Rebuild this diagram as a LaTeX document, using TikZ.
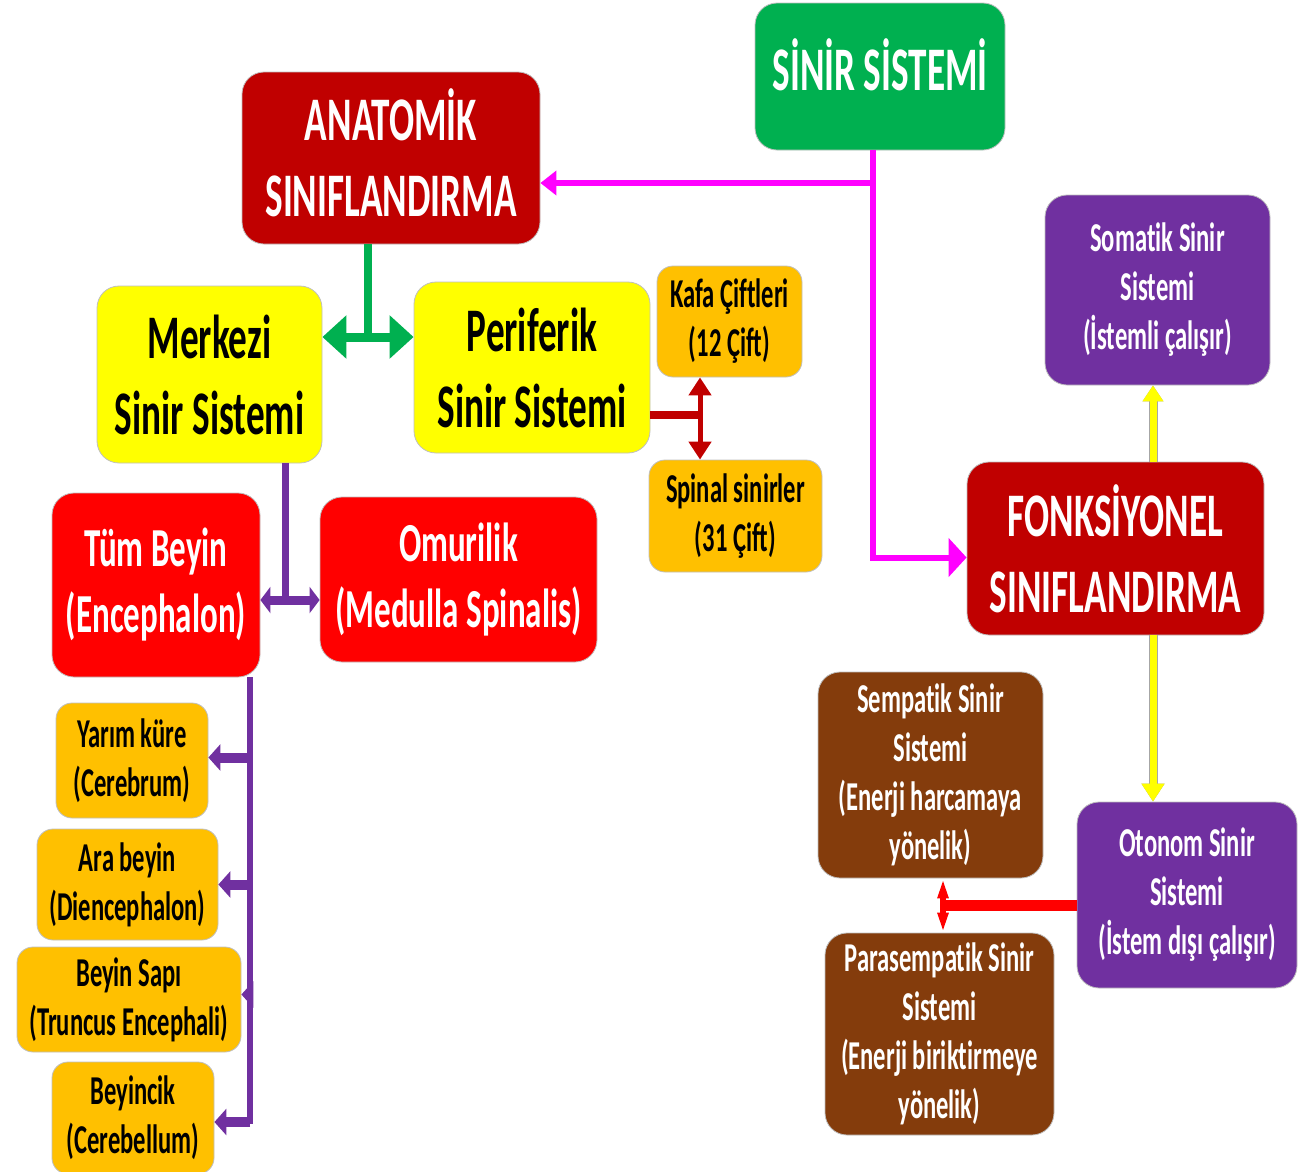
\documentclass[tikz,border=0pt]{standalone}
\usepackage{fontspec}
\setmainfont{Carlito}[FakeStretch=0.6, Ligatures=CommonOff]
\usetikzlibrary{arrows.meta}

\definecolor{sgreen}{HTML}{00B050}
\definecolor{sdarkred}{HTML}{C00000}
\definecolor{syellow}{HTML}{FFFF00}
\definecolor{sorange}{HTML}{FFC000}
\definecolor{sred}{HTML}{FF0000}
\definecolor{spurple}{HTML}{7030A0}
\definecolor{sbrown}{HTML}{843C0C}
\definecolor{smagenta}{HTML}{FF00FF}

\tikzset{
  box/.style={rounded corners=22pt, draw=black!25, line width=0.8pt, inner sep=0pt, align=center},
  smallbox/.style={box, rounded corners=16pt},
  bigtext/.style={font=\bfseries\fontsize{62}{76}\selectfont},
  midtext/.style={font=\bfseries\fontsize{55}{66}\selectfont},
  smalltext/.style={font=\bfseries\fontsize{41}{49}\selectfont},
  magline/.style={smagenta, line width=6pt},
  greenline/.style={sgreen, line width=9pt},
  dredline/.style={sdarkred, line width=8pt},
  purpline/.style={spurple, line width=7pt},
  yellline/.style={syellow, line width=7pt,
    preaction={draw=black!35, line width=9pt}},
  redline/.style={sred, line width=11pt}
}

\begin{document}
\begin{tikzpicture}[x=1pt, y=-1pt]
    \useasboundingbox (0,0) rectangle (1307,1171);

    % boxes
    \node[box, fill=sgreen, text=white, bigtext, text depth=24pt, minimum width=250pt, minimum height=147pt] (sinir) at (880,76.5) {SİNİR SİSTEMİ};
    \node[box, fill=sdarkred, text=white, bigtext, text depth=10pt, minimum width=298pt, minimum height=172pt] (anat) at (391,158) {ANATOMİK\\SINIFLANDIRMA};
    \node[box, fill=sdarkred, text=white, bigtext, minimum width=297pt, minimum height=173pt] (fonk) at (1115.5,548.5) {FONKSİYONEL\\SINIFLANDIRMA};

    \node[box, fill=syellow, bigtext, minimum width=225pt, minimum height=177pt] (merkezi) at (209.5,374.5) {Merkezi\\Sinir Sistemi};
    \node[box, fill=syellow, bigtext, minimum width=236pt, minimum height=171pt] (periferik) at (532,367.5) {Periferik\\Sinir Sistemi};
    \node[smallbox, fill=sorange, smalltext, minimum width=145pt, minimum height=111pt] (kafa) at (729.5,321.5) {Kafa Çiftleri\\(12 Çift)};
    \node[smallbox, fill=sorange, smalltext, minimum width=173pt, minimum height=112pt] (spinal) at (735.5,516) {Spinal sinirler\\(31 Çift)};

    \node[box, fill=sred, text=white, midtext, minimum width=208pt, minimum height=184pt] (beyin) at (156,585) {Tüm Beyin\\(Encephalon)};
    \node[box, fill=sred, text=white, midtext, minimum width=277pt, minimum height=165pt] (omurilik) at (458.5,579.5) {Omurilik\\(Medulla Spinalis)};

    \node[smallbox, fill=sorange, smalltext, minimum width=152pt, minimum height=115pt] (yarim) at (132,760.5) {Yarım küre\\(Cerebrum)};
    \node[smallbox, fill=sorange, smalltext, minimum width=181pt, minimum height=111pt] (ara) at (127.5,884.5) {Ara beyin\\(Diencephalon)};
    \node[smallbox, fill=sorange, smalltext, minimum width=224pt, minimum height=105pt] (sapi) at (129,999.5) {Beyin Sapı\\(Truncus Encephali)};
    \node[smallbox, fill=sorange, smalltext, minimum width=162pt, minimum height=112pt] (beyincik) at (133,1118) {Beyincik\\(Cerebellum)};

    \node[box, fill=spurple, text=white, smalltext, minimum width=225pt, minimum height=190pt] (somatik) at (1157.5,290) {Somatik Sinir\\Sistemi\\(İstemli çalışır)};
    \node[box, fill=spurple, text=white, smalltext, minimum width=220pt, minimum height=186pt] (otonom) at (1187,895) {Otonom Sinir\\Sistemi\\(İstem dışı çalışır)};
    \node[box, fill=sbrown, text=white, smalltext, minimum width=225pt, minimum height=206pt] (sempatik) at (930.5,775) {Sempatik Sinir\\Sistemi\\(Enerji harcamaya\\yönelik)};
    \node[box, fill=sbrown, text=white, smalltext, minimum width=229pt, minimum height=202pt] (parasemp) at (939.5,1034) {Parasempatik Sinir\\Sistemi\\(Enerji biriktirmeye\\yönelik)};

    % junctions
    \coordinate (mj) at (873,183);
    \coordinate (gj) at (368,337);
    \coordinate (dj) at (700,415);
    \coordinate (pj) at (285,600);
    \coordinate (spine) at (250,0);
    \coordinate (yx) at (1153,0);
    \coordinate (rj) at (943,905);

    % magenta
    \draw[magline, -{Triangle[width=38pt, length=18pt]}] ([xshift=-7pt]sinir.south) |- ([yshift=-9pt]fonk.west);
    \draw[magline, -{Triangle[width=24pt, length=16pt]}] (mj) -- (anat.east |- mj);

    % green
    \draw[sgreen, line width=8pt] (anat.south -| gj) -- (gj);
    \draw[greenline, {Triangle[width=42pt, length=24pt]}-{Triangle[width=42pt, length=24pt]}] (merkezi.east |- gj) -- (periferik.west |- gj);

    % dark red
    \draw[dredline] (periferik.east |- dj) -- (dj);
    \draw[sdarkred, line width=5pt, {Triangle[width=22pt, length=18pt]}-{Triangle[width=22pt, length=18pt]}] (kafa.south -| dj) -- (spinal.north -| dj);

    % purple
    \draw[purpline] (merkezi.south -| pj) -- (pj);
    \draw[spurple, line width=9pt, {Triangle[width=26pt, length=10pt]}-{Triangle[width=26pt, length=10pt]}] (beyin.east |- pj) -- (omurilik.west |- pj);
    \draw[spurple, line width=6pt] (beyin.south -| spine) -- ([yshift=-6pt]beyincik.east -| spine);
    \foreach \n/\dy in {yarim/3, ara/0, sapi/5, beyincik/-4}
        \draw[spurple, line width=10pt, -{Triangle[width=26pt, length=12pt]}] ([yshift=\dy pt]\n.east -| spine) -- ([yshift=\dy pt]\n.east);

    % yellow
    \draw[yellline, -{Triangle[width=20pt, length=16pt]}] (fonk.north -| yx) -- (somatik.south -| yx);
    \draw[yellline, -{Triangle[width=22pt, length=18pt]}] (fonk.south -| yx) -- (otonom.north -| yx);

    % red
    \draw[redline] (otonom.west |- rj) -- (rj);
    \draw[sred, line width=6pt, {Triangle[width=10pt, length=20pt]}-{Triangle[width=10pt, length=20pt]}] (sempatik.south -| rj) -- (parasemp.north -| rj);
\end{tikzpicture}
\end{document}
